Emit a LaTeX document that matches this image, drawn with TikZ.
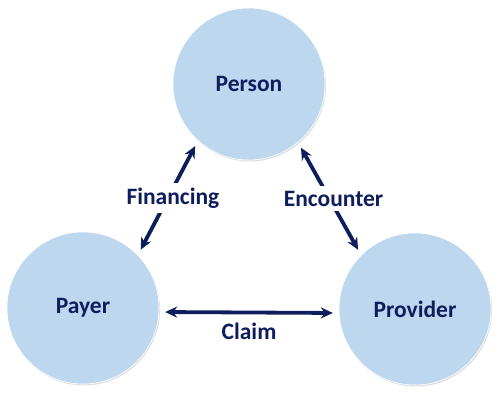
\documentclass[tikz,border=0pt]{standalone}
\usepackage{fontspec}
\setmainfont{Carlito}
\usetikzlibrary{arrows.meta,shadows}

\definecolor{circfill}{RGB}{189,215,238}
\definecolor{navy}{RGB}{14,30,92}

\begin{document}
\begin{tikzpicture}[x=1pt,y=-1pt,
    party/.style={circle,minimum size=152pt,inner sep=0pt,fill=circfill,
      draw=white,line width=0.6pt,
      drop shadow={shadow xshift=1pt,shadow yshift=-1.5pt,opacity=0.25},
      font=\bfseries\fontsize{23.5}{26}\selectfont,text=navy},
    lbl/.style={fill=white,inner sep=5pt,font=\bfseries\fontsize{23.5}{26}\selectfont,text=navy},
    conn/.style={{Stealth[length=12pt,width=11pt]}-{Stealth[length=12pt,width=11pt]},
      line width=3.8pt,navy,shorten >=6pt,shorten <=6pt}]
    \useasboundingbox (0,0) rectangle (500,408);
    \node[party] (person) at (249,84) {Person};
    \node[party] (payer) at (83,308) {Payer};
    \node[party] (provider) at (415,309) {Provider};
    \path
    (payer.44) edge[conn] node[lbl,xshift=5pt] {Financing} (person.228)
    (person.310) edge[conn] node[lbl,xshift=4pt] {Encounter} (provider.135)
    (payer.357) edge[conn] node[lbl,fill=none,below=4pt] {Claim} (provider.183)
    ;
\end{tikzpicture}
\end{document}
